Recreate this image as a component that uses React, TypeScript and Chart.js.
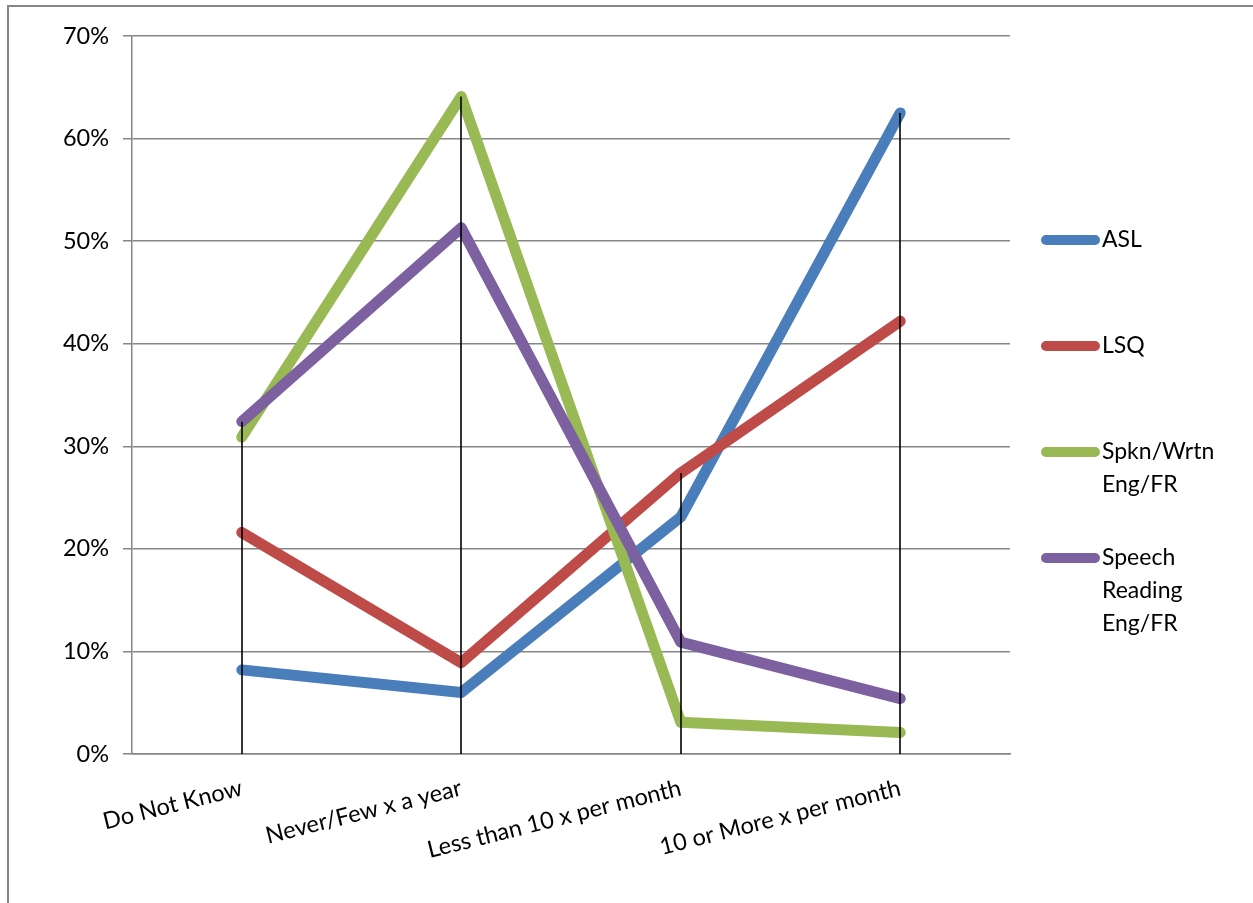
import { useEffect, useRef } from 'react';
import { Chart, registerables } from 'chart.js';

Chart.register(...registerables);

const categories = ['Do Not Know', 'Never/Few x a year', 'Less than 10 x per month', '10 or More x per month'];
const seriesNames = ['ASL', 'LSQ', 'Spkn/Wrtn Eng/FR', 'Speech Reading Eng/FR'];
const legendLines = [['ASL'], ['LSQ'], ['Spkn/Wrtn', 'Eng/FR'], ['Speech', 'Reading', 'Eng/FR']];
const aslValues = [8.2, 6.0, 23.1, 62.5];
const lsqValues = [21.6, 8.9, 27.4, 42.2];
const spknValues = [30.9, 64.1, 3.1, 2.1];
const speechValues = [32.4, 51.3, 10.9, 5.4];
const seriesColors = ['#4A7EBB', '#BE4B48', '#98B954', '#7D60A0'];
const yMin = 0;
const yMax = 70;
const yStep = 10;

const FONT = 'Lato, "Open Sans", sans-serif';
const GRID = '#868686';

const framePlugin = {
  id: 'frame',
  beforeDraw(chart: any) {
    const ctx = chart.ctx;
    ctx.save();
    ctx.strokeStyle = GRID;
    ctx.lineWidth = 2;
    ctx.strokeRect(8, 6, 3000, 3000);
    ctx.restore();
  },
};

const dropLinePlugin = {
  id: 'dropLines',
  afterDatasetsDraw(chart: any) {
    const { ctx, scales } = chart;
    const x = scales.x;
    const y = scales.y;
    ctx.save();
    ctx.strokeStyle = '#000';
    ctx.lineWidth = 1.6;
    categories.forEach((_, i) => {
      const max = Math.max(...chart.data.datasets.map((d: any) => d.data[i]));
      const px = Math.round(x.getPixelForValue(i));
      ctx.beginPath();
      ctx.moveTo(px, y.getPixelForValue(max));
      ctx.lineTo(px, y.getPixelForValue(0));
      ctx.stroke();
    });
    ctx.restore();
  },
};

const legendPlugin = {
  id: 'sideLegend',
  afterDraw(chart: any) {
    const { ctx, chartArea } = chart;
    const x0 = chartArea.right + 36;
    const x1 = chartArea.right + 85;
    const tx = chartArea.right + 92;
    ctx.save();
    chart.data.datasets.forEach((d: any, i: number) => {
      const yy = chartArea.top + 204 + i * 106;
      ctx.strokeStyle = d.borderColor;
      ctx.lineWidth = 10;
      ctx.lineCap = 'round';
      ctx.beginPath();
      ctx.moveTo(x0, yy);
      ctx.lineTo(x1, yy);
      ctx.stroke();
      ctx.fillStyle = '#000';
      ctx.font = `23px ${FONT}`;
      ctx.textAlign = 'left';
      ctx.textBaseline = 'middle';
      legendLines[i].forEach((t, j) => {
        ctx.fillText(t, tx, yy + j * 33);
      });
    });
    ctx.restore();
  },
};

export default function App() {
  const ref = useRef<HTMLCanvasElement | null>(null);

  useEffect(() => {
    document.body.style.margin = '0';
    const values = [aslValues, lsqValues, spknValues, speechValues];
    const chart = new Chart(ref.current!, {
      type: 'line',
      data: {
        labels: categories,
        datasets: seriesNames.map((name, i) => ({
          label: name,
          data: values[i],
          borderColor: seriesColors[i],
          backgroundColor: seriesColors[i],
          borderWidth: 11,
          borderCapStyle: 'round',
          borderJoinStyle: 'round',
          pointRadius: 0,
          pointHoverRadius: 0,
          tension: 0,
          fill: false,
          order: 4 - i,
        })),
      },
      options: {
        responsive: false,
        animation: false,
        events: [],
        layout: { padding: { left: 0, right: 243, top: 36, bottom: 0 } },
        plugins: {
          legend: { display: false },
          tooltip: { enabled: false },
          title: { display: false },
        },
        scales: {
          x: {
            offset: true,
            grid: { display: false },
            border: { display: true, color: GRID, width: 1.5 },
            ticks: {
              color: '#000',
              font: { family: FONT, size: 23.5 },
              maxRotation: 14,
              minRotation: 14,
              autoSkip: false,
              padding: 12,
            },
            afterFit: (s: any) => {
              s.height = 149;
            },
          },
          y: {
            min: yMin,
            max: yMax,
            ticks: {
              stepSize: yStep,
              color: '#000',
              font: { family: FONT, size: 23.5 },
              padding: 14,
              callback: (v: any) => `${v}%`,
            },
            grid: { color: GRID, lineWidth: 1.5, tickLength: 9, drawTicks: true },
            border: { display: true, color: GRID, width: 1.5 },
            afterFit: (s: any) => {
              s.width = 132;
            },
          },
        },
      } as any,
      plugins: [framePlugin, dropLinePlugin, legendPlugin],
    });
    return () => chart.destroy();
  }, []);

  return (
    <div style={{ width: 1253, height: 903 }}>
      <canvas ref={ref} width={1253} height={903} style={{ display: 'block' }} />
    </div>
  );
}
